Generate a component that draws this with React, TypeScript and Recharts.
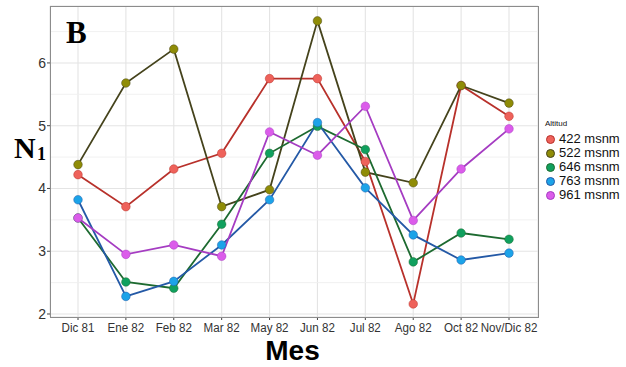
import { LineChart, Line, XAxis, YAxis, CartesianGrid, ReferenceLine } from 'recharts';

const months = ['Dic 81', 'Ene 82', 'Feb 82', 'Mar 82', 'May 82', 'Jun 82', 'Jul 82', 'Ago 82', 'Oct 82', 'Nov/Dic 82'];
const alt422 = [4.22, 3.71, 4.31, 4.56, 5.75, 5.75, 4.43, 2.16, 5.64, 5.15];
const alt522 = [4.38, 5.68, 6.22, 3.71, 3.98, 6.67, 4.26, 4.09, 5.64, 5.36];
const alt646 = [3.53, 2.51, 2.41, 3.43, 4.56, 4.99, 4.62, 2.83, 3.29, 3.19];
const alt763 = [3.82, 2.28, 2.52, 3.1, 3.82, 5.05, 4.01, 3.26, 2.86, 2.97];
const alt961 = [3.53, 2.95, 3.1, 2.92, 4.9, 4.53, 5.31, 3.49, 4.31, 4.95];
const yTicks = [2, 3, 4, 5, 6];
const yMinor = [2.5, 3.5, 4.5, 5.5, 6.5];

const series = [
  { key: 'a422', name: '422 msnm', values: alt422, fill: '#EE625B', line: '#B8312B' },
  { key: 'a522', name: '522 msnm', values: alt522, fill: '#8F8C07', line: '#45431C' },
  { key: 'a646', name: '646 msnm', values: alt646, fill: '#10A05E', line: '#1D6A30' },
  { key: 'a763', name: '763 msnm', values: alt763, fill: '#1CA3E8', line: '#2459A6' },
  { key: 'a961', name: '961 msnm', values: alt961, fill: '#DB5CEA', line: '#A53CC2' },
];

const data = months.map((mes, i) => {
  const row: Record<string, string | number> = { mes };
  series.forEach((s) => {
    row[s.key] = s.values[i];
  });
  return row;
});

const sans = '"Liberation Sans", Arial, sans-serif';
const serif = '"Liberation Serif", "Times New Roman", serif';

// narrow tick labels, like the Helvetica used by the original plot
const MonthTick = (props: any) => {
  const { x, y, payload } = props;
  return (
    <text
      x={0}
      y={0}
      dy={10}
      textAnchor="middle"
      fontSize={13.5}
      fontFamily={sans}
      fill="#333"
      transform={`translate(${x},${y}) scale(0.86,1)`}
    >
      {payload.value}
    </text>
  );
};

const AltitudLegend = () => (
  <div style={{ position: 'absolute', left: 541, top: 118, width: 85, fontFamily: sans, color: '#111' }}>
    <div style={{ fontSize: 8, height: 14, lineHeight: '12px', paddingLeft: 4 }}>Altitud</div>
    {series.map((s) => (
      <div key={s.key} style={{ display: 'flex', alignItems: 'center', height: 14 }}>
        <span
          style={{
            width: 7,
            height: 7,
            borderRadius: '50%',
            background: s.fill,
            border: `0.5px solid ${s.line}`,
            marginLeft: 5,
            marginRight: 4,
            flexShrink: 0,
          }}
        />
        <span style={{ fontSize: 13, lineHeight: '14px', whiteSpace: 'nowrap' }}>{s.name}</span>
      </div>
    ))}
  </div>
);

export default function App() {
  return (
    <div style={{ position: 'absolute', left: 0, top: 0, width: 626, height: 367, background: '#fff' }}>
      <LineChart width={626} height={367} data={data} margin={{ top: 6, right: 88, bottom: 0, left: 0 }}>
        <CartesianGrid stroke="#E4E4E4" strokeWidth={1.1} />
        {yMinor.map((v) => (
          <ReferenceLine key={v} y={v} stroke="#EFEFEF" strokeWidth={0.9} />
        ))}
        <XAxis
          dataKey="mes"
          height={50}
          padding={{ left: 28, right: 29 }}
          axisLine={false}
          tickLine={{ stroke: '#444' }}
          tickSize={3}
          tick={<MonthTick />}
          interval={0}
        />
        <YAxis
          width={50}
          domain={[1.952, 6.907]}
          ticks={yTicks}
          allowDataOverflow
          axisLine={false}
          tickLine={{ stroke: '#444' }}
          tickSize={3}
          tickMargin={1}
          tick={{ fontSize: 14, fontFamily: sans, fill: '#333' }}
        />
        {series.map((s) => (
          <Line
            key={s.key + '-line'}
            dataKey={s.key}
            stroke={s.line}
            strokeWidth={1.8}
            dot={false}
            activeDot={false}
            legendType="none"
            isAnimationActive={false}
          />
        ))}
        {series.map((s) => (
          <Line
            key={s.key + '-pts'}
            dataKey={s.key}
            name={s.name}
            stroke="none"
            dot={{ r: 4.3, fill: s.fill, stroke: s.line, strokeWidth: 0.8, strokeOpacity: 0.6 }}
            activeDot={false}
            isAnimationActive={false}
          />
        ))}
      </LineChart>
      <AltitudLegend />
      <div
        style={{
          position: 'absolute',
          left: 49.5,
          top: 5.5,
          width: 489,
          height: 312,
          border: '1.4px solid #8C8C8C',
          boxSizing: 'border-box',
          pointerEvents: 'none',
        }}
      />
      <svg width={626} height={367} style={{ position: 'absolute', left: 0, top: 0, pointerEvents: 'none' }}>
        <text x={66} y={43} fontFamily={serif} fontWeight="bold" fontSize={31} fill="#000">
          B
        </text>
        <text x={14} y={158} fontFamily={serif} fontWeight="bold" fontSize={30} fill="#000">
          N
        </text>
        <text x={37} y={159.5} fontFamily={serif} fontWeight="bold" fontSize={18} fill="#000">
          1
        </text>
        <text x={292.5} y={360} textAnchor="middle" fontFamily={sans} fontWeight="bold" fontSize={28} fill="#000">
          Mes
        </text>
      </svg>
    </div>
  );
}
